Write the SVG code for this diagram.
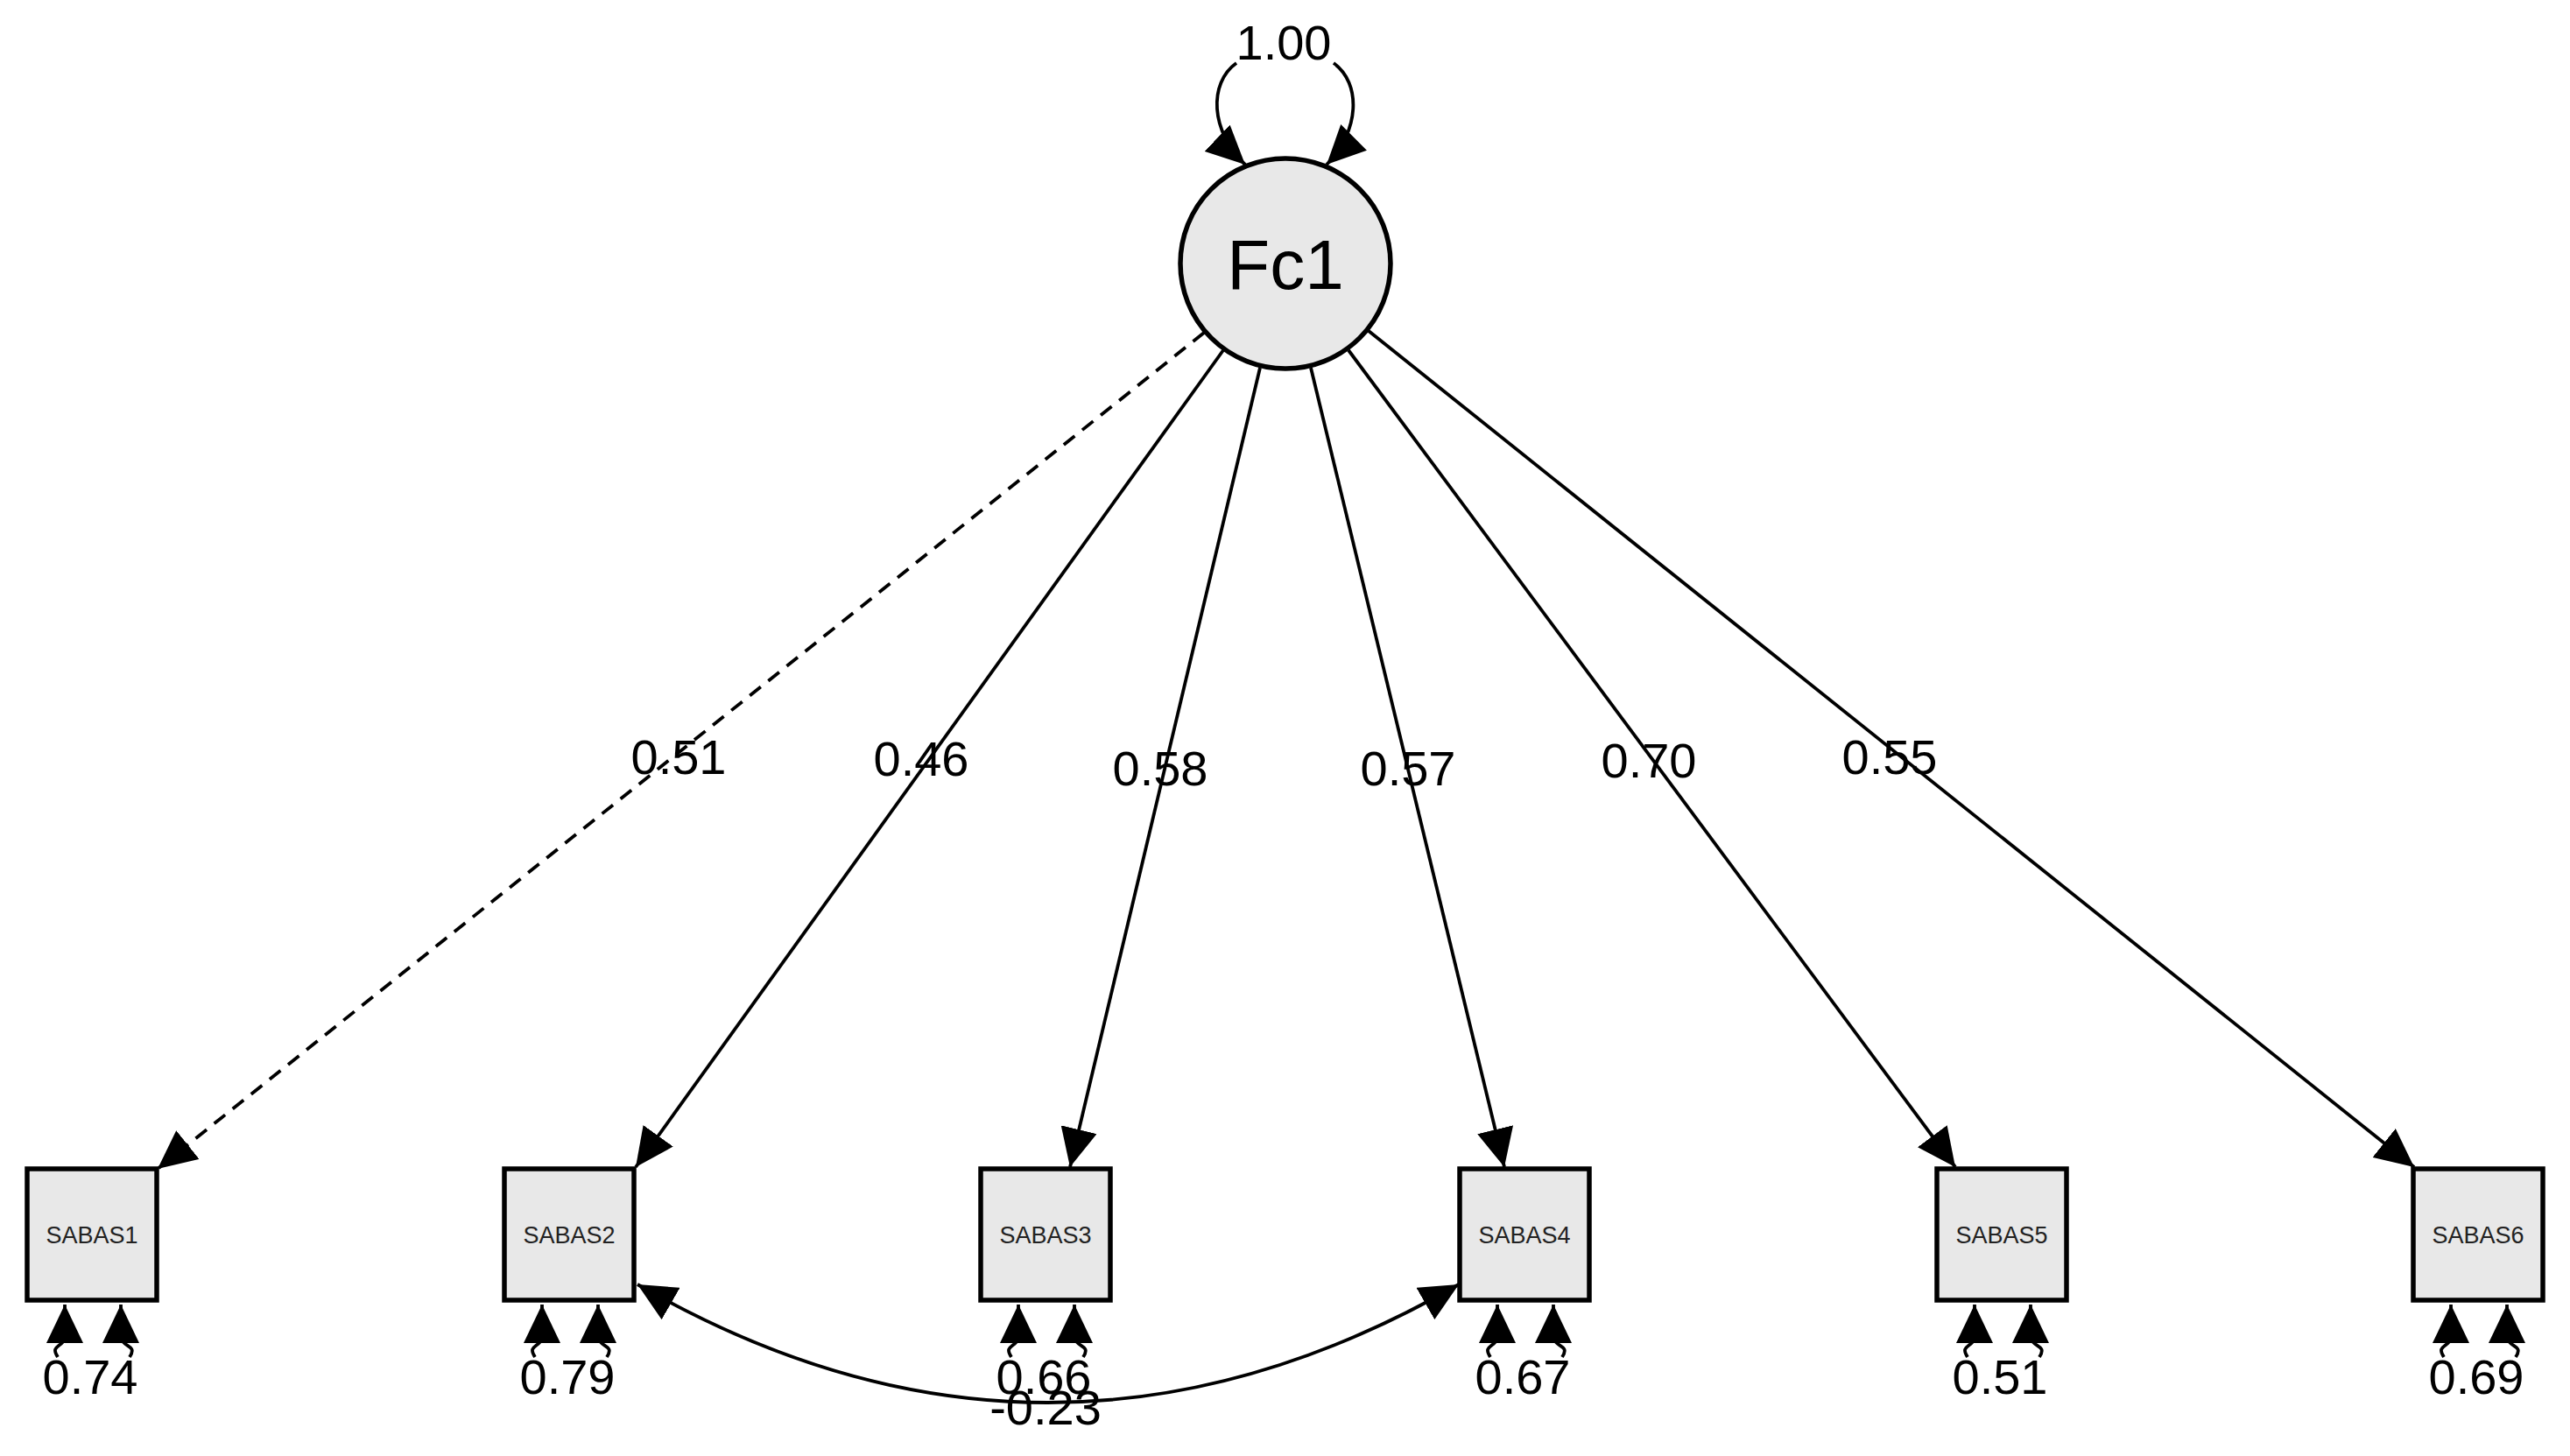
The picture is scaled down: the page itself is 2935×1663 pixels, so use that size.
<svg xmlns="http://www.w3.org/2000/svg" width="2935" height="1663" viewBox="0 0 2935 1663">
<style>
text{font-family:"Liberation Sans",Arial,sans-serif;fill:#000}
.lbl{font-size:56px;text-anchor:middle}
.box{fill:#e8e8e8;stroke:#000;stroke-width:5.5}
.bt{font-size:27px;text-anchor:middle;fill:#222}
.c{fill:none;stroke:#000;stroke-width:3.8}
</style>
<defs>
<marker id="a" markerUnits="userSpaceOnUse" markerWidth="46" markerHeight="42" refX="44" refY="21" orient="auto-start-reverse"><path d="M0,0 L44,21 L0,42 Z" fill="#000"/></marker>
</defs>
<rect width="2935" height="1663" fill="#fff"/>
<g id="connectors">
<path class="c" d="M1375,380 L180,1335" stroke-dasharray="16 11" marker-end="url(#a)"/>
<path class="c" d="M1397,400 L726,1333" marker-end="url(#a)"/>
<path class="c" d="M1439,420 L1222,1333" marker-end="url(#a)"/>
<path class="c" d="M1497,420 L1718,1333" marker-end="url(#a)"/>
<path class="c" d="M1540,400 L2233,1333" marker-end="url(#a)"/>
<path class="c" d="M1563,378 L2757,1333" marker-end="url(#a)"/>
<path class="c" d="M1412,72 C1380,95 1382,150 1422,188" marker-end="url(#a)"/>
<path class="c" d="M1523,72 C1555,95 1553,150 1515,188" marker-end="url(#a)"/>
<path class="c" d="M728,1467 Q1196,1737 1666,1467" marker-start="url(#a)" marker-end="url(#a)"/>
</g>
<g id="Fc1"><circle cx="1468" cy="301" r="120" fill="#e8e8e8" stroke="#000" stroke-width="5.5"/><text x="1468" y="330" font-size="80" text-anchor="middle">Fc1</text></g>
<text class="lbl" x="1466" y="68">1.00</text>
<g id="loadlabels">
<text class="lbl" x="775" y="884">0.51</text>
<text class="lbl" x="1052" y="886">0.46</text>
<text class="lbl" x="1325" y="897">0.58</text>
<text class="lbl" x="1608" y="897">0.57</text>
<text class="lbl" x="1883" y="888">0.70</text>
<text class="lbl" x="2158" y="884">0.55</text>
<text class="lbl" x="1194" y="1627">-0.23</text>
</g>
<g id="SABAS1"><rect class="box" x="31" y="1335" width="148" height="150"/><text class="bt" x="105" y="1420">SABAS1</text>
<path class="c" d="M66,1550 C56,1535 74,1540 74,1525 L74,1490" marker-end="url(#a)"/><path class="c" d="M148,1550 C158,1535 138,1540 138,1525 L138,1490" marker-end="url(#a)"/><text class="lbl" x="103" y="1592">0.74</text></g>
<g id="SABAS2"><rect class="box" x="576" y="1335" width="148" height="150"/><text class="bt" x="650" y="1420">SABAS2</text>
<path class="c" d="M611,1550 C601,1535 619,1540 619,1525 L619,1490" marker-end="url(#a)"/><path class="c" d="M693,1550 C703,1535 683,1540 683,1525 L683,1490" marker-end="url(#a)"/><text class="lbl" x="648" y="1592">0.79</text></g>
<g id="SABAS3"><rect class="box" x="1120" y="1335" width="148" height="150"/><text class="bt" x="1194" y="1420">SABAS3</text>
<path class="c" d="M1155,1550 C1145,1535 1163,1540 1163,1525 L1163,1490" marker-end="url(#a)"/><path class="c" d="M1237,1550 C1247,1535 1227,1540 1227,1525 L1227,1490" marker-end="url(#a)"/><text class="lbl" x="1192" y="1592">0.66</text></g>
<g id="SABAS4"><rect class="box" x="1667" y="1335" width="148" height="150"/><text class="bt" x="1741" y="1420">SABAS4</text>
<path class="c" d="M1702,1550 C1692,1535 1710,1540 1710,1525 L1710,1490" marker-end="url(#a)"/><path class="c" d="M1784,1550 C1794,1535 1774,1540 1774,1525 L1774,1490" marker-end="url(#a)"/><text class="lbl" x="1739" y="1592">0.67</text></g>
<g id="SABAS5"><rect class="box" x="2212" y="1335" width="148" height="150"/><text class="bt" x="2286" y="1420">SABAS5</text>
<path class="c" d="M2247,1550 C2237,1535 2255,1540 2255,1525 L2255,1490" marker-end="url(#a)"/><path class="c" d="M2329,1550 C2339,1535 2319,1540 2319,1525 L2319,1490" marker-end="url(#a)"/><text class="lbl" x="2284" y="1592">0.51</text></g>
<g id="SABAS6"><rect class="box" x="2756" y="1335" width="148" height="150"/><text class="bt" x="2830" y="1420">SABAS6</text>
<path class="c" d="M2791,1550 C2781,1535 2799,1540 2799,1525 L2799,1490" marker-end="url(#a)"/><path class="c" d="M2873,1550 C2883,1535 2863,1540 2863,1525 L2863,1490" marker-end="url(#a)"/><text class="lbl" x="2828" y="1592">0.69</text></g>
</svg>
